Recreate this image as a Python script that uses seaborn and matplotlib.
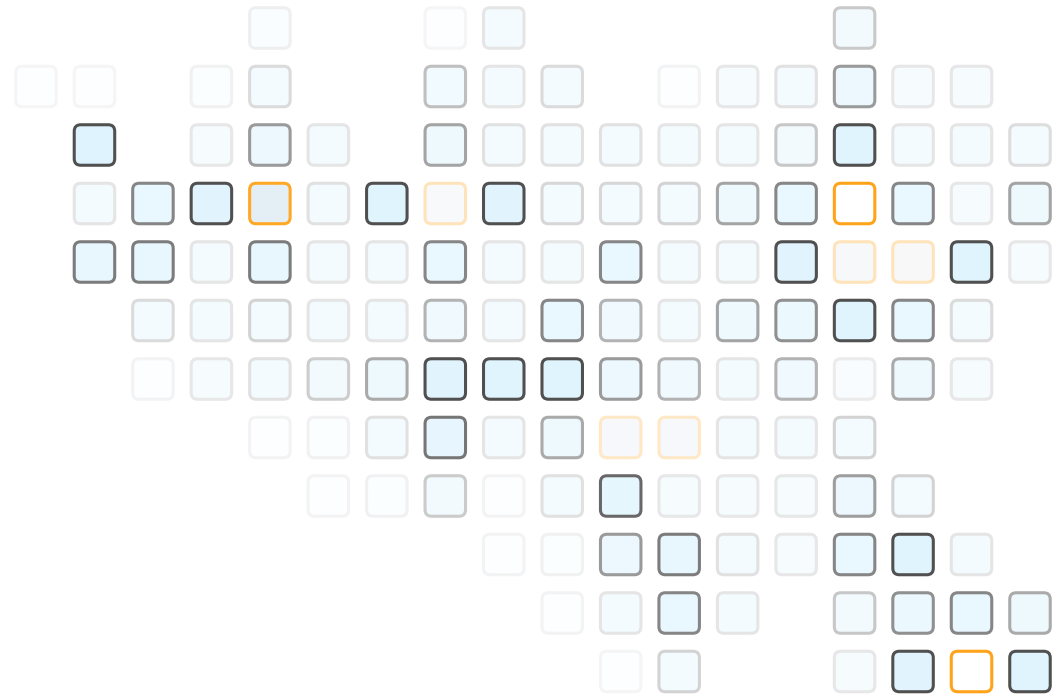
import numpy as np
import pandas as pd
import matplotlib
matplotlib.use('Agg')
import matplotlib.pyplot as plt
from matplotlib.path import Path
from matplotlib.colors import to_rgb, to_hex
import seaborn as sns

# strength of each cell, rows top to bottom, 18 columns, 0 = no cell
row_0 = [0, 0, 0, 0, .08, 0, 0, .05, .13, 0, 0, 0, 0, 0, .27, 0, 0, 0]
row_1 = [.05, .05, 0, .07, .18, 0, 0, .32, .13, .18, 0, .06, .12, .15, .5, .12, .12, 0]
row_2 = [0, 1, 0, .12, .5, .13, 0, .45, .15, .15, .15, .13, .13, .28, .95, .13, .13, .17]
row_3 = [0, .13, .6, .9, .95, .15, .95, .3, .9, .2, .2, .22, .45, .6, 1, .6, .12, .45]
row_4 = [0, .65, .65, .13, .65, .13, .13, .6, .13, .13, .6, .13, .13, .9, .3, .3, .95, .12]
row_5 = [0, 0, .18, .13, .22, .13, .13, .38, .13, .6, .38, .13, .45, .55, .95, .6, .18, 0]
row_6 = [0, 0, .06, .12, .15, .25, .42, .9, .95, .95, .5, .38, .13, .38, .1, .42, .12, 0]
row_7 = [0, 0, 0, 0, .06, .07, .15, .68, .13, .42, .25, .25, .13, .13, .22, 0, 0, 0]
row_8 = [0, 0, 0, 0, 0, .06, .07, .26, .06, .15, .75, .12, .12, .12, .48, .22, 0, 0]
row_9 = [0, 0, 0, 0, 0, 0, 0, 0, .06, .07, .5, .65, .15, .12, .6, .95, .13, 0]
row_10 = [0, 0, 0, 0, 0, 0, 0, 0, 0, .06, .13, .6, .13, 0, .28, .55, .6, .42]
row_11 = [0, 0, 0, 0, 0, 0, 0, 0, 0, 0, .05, .22, 0, 0, .12, .9, 1, .95]
rows = [row_0, row_1, row_2, row_3, row_4, row_5, row_6, row_7, row_8, row_9, row_10, row_11]

# highlighted cells: row, column, fill
orange_cells = [(3, 4, '#e4eff5'), (3, 7, '#f7f9fb'), (3, 14, '#ffffff'),
                (4, 14, '#f6f8fa'), (4, 15, '#f8f8f8'), (7, 10, '#f6f8fb'),
                (7, 11, '#f6f8fb'), (11, 16, '#ffffff')]


def mix(color, amount):
    c = np.array(to_rgb(color))
    return to_hex(1 - (1 - c) * amount)


# rounded square marker
r = 0.32
rounded = Path(
    [(-1 + r, -1), (1 - r, -1), (1, -1), (1, -1 + r), (1, 1 - r), (1, 1), (1 - r, 1),
     (-1 + r, 1), (-1, 1), (-1, 1 - r), (-1, -1 + r), (-1, -1), (-1 + r, -1), (-1 + r, -1)],
    [Path.MOVETO, Path.LINETO, Path.CURVE3, Path.CURVE3, Path.LINETO, Path.CURVE3, Path.CURVE3,
     Path.LINETO, Path.CURVE3, Path.CURVE3, Path.LINETO, Path.CURVE3, Path.CURVE3, Path.CLOSEPOLY])

orange_lookup = {(a, b): c for a, b, c in orange_cells}
records = []
for i, vals in enumerate(rows):
    for j, v in enumerate(vals):
        if v == 0:
            continue
        if (i, j) in orange_lookup:
            fill = orange_lookup[(i, j)]
            edge = mix('#ffa31a', v)
        else:
            fill = mix('#def3fd', np.interp(v, [0, .06, .13, .3, .6, 1], [0, .08, .32, .4, .66, 1]))
            edge = mix('#505050', min(1, v * 1.15))
        records.append({'col': j, 'row': i, 'fill': fill, 'edge': edge})
df = pd.DataFrame(records)

fig = plt.figure(figsize=(10.62, 6.98), dpi=100)
ax = fig.add_axes([0, 0, 1, 1])
sns.scatterplot(data=df, x='col', y='row', hue='fill', palette={c: c for c in df['fill'].unique()},
                marker=rounded, s=850, linewidth=2.2, edgecolor=df['edge'].tolist(),
                legend=False, ax=ax, clip_on=False)
ax.set_xlim(-36 / 58.47, (1062 - 36) / 58.47)
ax.set_ylim((698 - 28) / 58.5, -28 / 58.5)
ax.set_axis_off()
fig.savefig('out.png', dpi=100)
